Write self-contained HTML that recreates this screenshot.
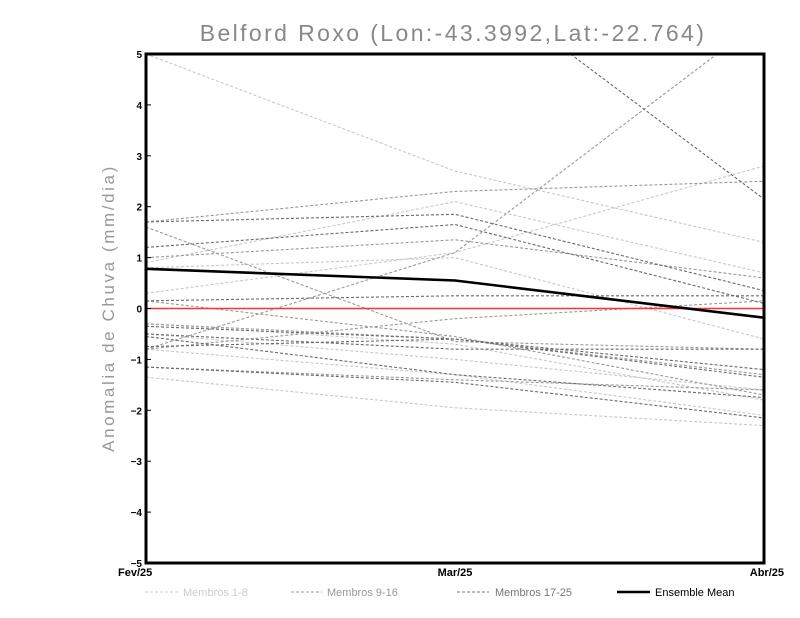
<!DOCTYPE html>
<html><head><meta charset="utf-8"><style>
body{margin:0;background:#fff;}
svg{display:block;font-family:"Liberation Sans",sans-serif;}
</style></head><body>
<svg id="chart" width="800" height="618">
<defs><clipPath id="clip"><rect x="146" y="54" width="618" height="509"/></clipPath></defs>
<text x="453" y="41" text-anchor="middle" font-size="23" fill="#888" style="letter-spacing:2.4px">Belford Roxo (Lon:-43.3992,Lat:-22.764)</text>
<text transform="translate(114,308) rotate(-90)" text-anchor="middle" font-size="17" fill="#999" style="letter-spacing:2.6px">Anomalia de Chuva (mm/dia)</text>
<g id="plot" clip-path="url(#clip)"></g>
<g id="axes"></g>
<g id="legend">
<line x1="145" y1="592" x2="178" y2="592" stroke="#ccc" stroke-dasharray="3,2"/>
<text x="183" y="596" font-size="11" fill="#ccc">Membros 1-8</text>
<line x1="291" y1="592" x2="322" y2="592" stroke="#999" stroke-dasharray="3,2"/>
<text x="327" y="596" font-size="11" fill="#999">Membros 9-16</text>
<line x1="457" y1="592" x2="489" y2="592" stroke="#777" stroke-dasharray="3,2"/>
<text x="495" y="596" font-size="11" fill="#777">Membros 17-25</text>
<line x1="617" y1="592" x2="650" y2="592" stroke="#000" stroke-width="2.5"/>
<text x="655" y="596" font-size="11" fill="#000">Ensemble Mean</text>
</g>
</svg>
<script>
const categories = ["Fev/25","Mar/25","Abr/25"];
const yTicks = [-5,-4,-3,-2,-1,0,1,2,3,4,5];
const membersLight = [
 [5.0,2.7,1.3],[0.3,1.1,2.8],[0.9,2.1,0.7],[0.8,1.0,-0.6],
 [-0.3,-0.7,-1.8],[-0.8,-1.3,-2.1],[-1.35,-1.95,-2.3],[-0.5,-1.0,-1.6]
];
const membersMid = [
 [-0.8,1.1,5.7],[1.7,2.3,2.5],[1.6,-0.65,-0.8],[1.0,1.35,0.6],
 [-0.8,-0.2,0.15],[-0.3,-0.6,-1.3],[-1.15,-1.4,-1.6],[0.15,-0.55,-1.7]
];
const membersDark = [
 [9.0,6.7,2.15],[1.7,1.85,0.35],[1.2,1.65,0.1],[0.15,0.25,0.25],
 [-0.35,-0.6,-1.35],[-0.75,-0.6,-1.2],[-0.55,-1.3,-1.75],[-1.15,-1.45,-2.15],[-0.5,-0.8,-0.8]
];
const ensembleMean = [0.78,0.55,-0.18];
const zeroLine = [0,0,0];

const L=146,R=764,T=54,B=563, yMin=-5,yMax=5;
const xs = i => L + i*(R-L)/(categories.length-1);
const ys = v => B - (v-yMin)/(yMax-yMin)*(B-T);
const NS="http://www.w3.org/2000/svg";
const plot=document.getElementById('plot'), axes=document.getElementById('axes');
function line(vals,color,w,dash,name){
  const p=document.createElementNS(NS,'polyline');
  p.setAttribute('points',vals.map((v,i)=>xs(i)+','+ys(v)).join(' '));
  p.setAttribute('fill','none');p.setAttribute('stroke',color);p.setAttribute('stroke-width',w);
  if(dash)p.setAttribute('stroke-dasharray',dash);
  
  
  plot.appendChild(p);
}
membersLight.forEach((m,i)=>line(m,'#c8c8c8',1.1,'3,2','member-light-'+(i+1)));
membersMid.forEach((m,i)=>line(m,'#999',1.1,'3,2','member-mid-'+(i+9)));
membersDark.forEach((m,i)=>line(m,'#6a6a6a',1.1,'3,2','member-dark-'+(i+17)));
line(zeroLine,'#f33',1.5,null,'zero-line');
line(ensembleMean,'#000',2.6,null,'ensemble-mean-line');
const fr=document.createElementNS(NS,'rect');
fr.setAttribute('x',L);fr.setAttribute('y',T);fr.setAttribute('width',R-L);fr.setAttribute('height',B-T);
fr.setAttribute('fill','none');fr.setAttribute('stroke','#000');fr.setAttribute('stroke-width','3');


axes.appendChild(fr);
yTicks.forEach(t=>{
  const tx=document.createElementNS(NS,'text');
  tx.setAttribute('x',L-4);tx.setAttribute('y',ys(t)+4);tx.setAttribute('text-anchor','end');
  tx.setAttribute('font-size','10');tx.setAttribute('font-weight','bold');
  tx.textContent=(t<0?'\u2212'+(-t):t);
  
  
  axes.appendChild(tx);
  const tk=document.createElementNS(NS,'line');
  tk.setAttribute('x1',L);tk.setAttribute('x2',L+5);tk.setAttribute('y1',ys(t));tk.setAttribute('y2',ys(t));
  tk.setAttribute('stroke','#000');
  
  
  axes.appendChild(tk);
});
categories.forEach((c,i)=>{
  const tx=document.createElementNS(NS,'text');
  const anchor=i===0?'start':(i===categories.length-1?'end':'middle');
  tx.setAttribute('x',i===0?L-28:(i===categories.length-1?R+20:xs(i)));
  tx.setAttribute('y',B+13);tx.setAttribute('text-anchor',anchor);
  tx.setAttribute('font-size','11');tx.setAttribute('font-weight','bold');
  tx.textContent=c;
  
  
  axes.appendChild(tx);
});
</script>
</body></html>
